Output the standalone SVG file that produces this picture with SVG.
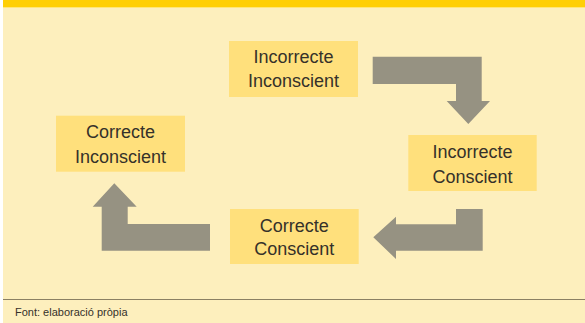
<svg xmlns="http://www.w3.org/2000/svg" width="585" height="323" viewBox="0 0 585 323">
<style>
.box{fill:#FFE07C}
.t{font-family:"Liberation Sans",Arial,sans-serif;font-size:18px;fill:#35312a;text-anchor:middle}
.arr{fill:#969282}
.foot{font-family:"Liberation Sans",Arial,sans-serif;font-size:11px;fill:#35312a}
</style>
<rect x="0" y="0" width="585" height="323" fill="#ffffff"/>
<rect x="3" y="0" width="582" height="323" fill="#FDEFBD"/>
<rect x="3" y="0" width="582" height="7" fill="#FFCF06"/>
<rect x="3" y="7" width="582" height="0.8" fill="#FFE46A"/>
<line x1="3" y1="299.5" x2="585" y2="299.5" stroke="#8B8063" stroke-width="1"/>
<text class="foot" x="15" y="316">Font: elaboració pròpia</text>
<g id="connectors">
<path class="arr" d="M372.7,56.7 H481.7 V101 H490 L468.3,124 L446.7,101 H456 V84 H372.7 Z"/>
<path class="arr" d="M456,209 H482.7 V250.7 H396 V259 L373.3,237.3 L396,216.7 V224.3 H456 Z"/>
<path class="arr" d="M210,224 V250.7 H101.7 V206.7 H92.7 L114.3,183.3 L136.7,206.7 H127.7 V224 Z"/>
</g>
<g id="n1">
<rect class="box" x="229" y="41" width="129" height="56"/>
<text class="t" x="293.5" y="63.3">Incorrecte</text>
<text class="t" x="293.5" y="87.3">Inconscient</text>
</g>
<g id="n2">
<rect class="box" x="408.3" y="135" width="128.4" height="56"/>
<text class="t" x="472.5" y="158.3">Incorrecte</text>
<text class="t" x="472.5" y="182.7">Conscient</text>
</g>
<g id="n3">
<rect class="box" x="230" y="209" width="128.7" height="55"/>
<text class="t" x="294.3" y="231.5">Correcte</text>
<text class="t" x="294.3" y="255.3">Conscient</text>
</g>
<g id="n4">
<rect class="box" x="56" y="115.7" width="129" height="56"/>
<text class="t" x="120.5" y="138.3">Correcte</text>
<text class="t" x="120.5" y="162.5">Inconscient</text>
</g>
</svg>
